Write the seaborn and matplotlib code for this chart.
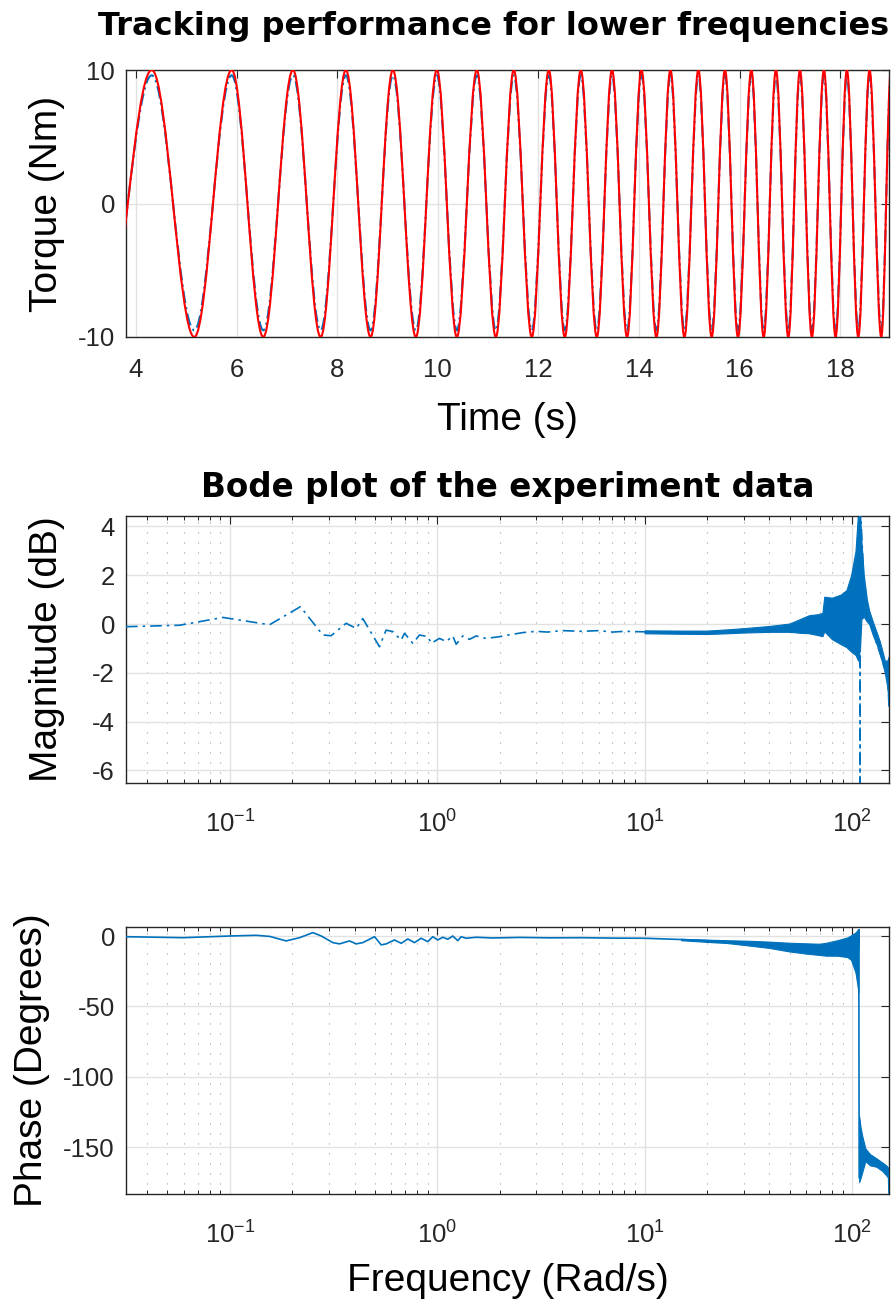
import numpy as np
import pandas as pd
import matplotlib
matplotlib.use("Agg")
import matplotlib.pyplot as plt
import seaborn as sns
from matplotlib.path import Path
from matplotlib.patches import PathPatch
from matplotlib.ticker import FixedLocator, LogLocator, NullFormatter, FuncFormatter

# ---------------- data ----------------
# Torque tracking: times of successive extrema (s) and extremum values (Nm)
extremum_time = [3.36, 4.312, 5.158, 5.901, 6.529, 7.119, 7.670, 8.172, 8.663, 9.106,
                 9.563, 9.980, 10.378, 10.775, 11.153, 11.510, 11.868, 12.206, 12.524, 12.842,
                 13.160, 13.463, 13.762, 14.048, 14.346, 14.624, 14.902, 15.180, 15.444, 15.709,
                 15.967, 16.233, 16.478, 16.722, 16.968, 17.199, 17.437, 17.676, 17.908, 18.133,
                 18.359, 18.583, 18.816, 19.01]
reference_extremum = [-10, 10, -10, 10, -10, 10, -10, 10, -10, 10,
                      -10, 10, -10, 10, -10, 10, -10, 10, -10, 10,
                      -10, 10, -10, 10, -10, 10, -10, 10, -10, 10,
                      -10, 10, -10, 10, -10, 10, -10, 10, -10, 10,
                      -10, 10, -10, 10]
measured_extremum = [-9.5, 9.6, -9.5, 9.6, -9.5, 9.6, -9.5, 9.6, -9.5, 9.6,
                     -9.5, 9.6, -9.5, 9.6, -9.5, 9.6, -9.5, 9.6, -9.5, 9.6,
                     -9.5, 9.6, -9.5, 9.6, -9.5, 9.6, -9.5, 9.6, -9.5, 9.6,
                     -9.5, 9.6, -9.5, 9.6, -9.5, 9.6, -9.5, 9.6, -9.5, 9.6,
                     -9.5, 9.6, -9.5, 9.6]
time_ticks = [4, 6, 8, 10, 12, 14, 16, 18]
torque_ticks = [-10, 0, 10]

# Bode magnitude: main trace (rad/s, dB)
mag_freq = [0.0316, 0.0573, 0.0927, 0.1555, 0.219, 0.281, 0.308, 0.364, 0.407, 0.438,
            0.527, 0.567, 0.611, 0.670, 0.696, 0.763, 0.822, 0.901, 0.936, 1.026,
            1.105, 1.189, 1.235, 1.329, 1.43, 1.54, 1.72, 1.995, 2.2, 2.6,
            3.0, 3.4, 4.0, 5.0, 6.0, 7.0, 8.0, 10.0, 15.0, 20.0,
            30.0, 40.0, 50.0, 60.0, 70.0, 80.0, 90.0, 100.0, 106.0, 108.8,
            109.2, 109.4, 109.6, 114.0, 121.0, 130.0, 140.0, 149.0, 150.8]
mag_db = [-0.11, -0.05, 0.27, -0.03, 0.71, -0.45, -0.48, 0.03, -0.18, 0.22,
          -0.93, -0.25, -0.31, -0.66, -0.38, -0.79, -0.45, -0.52, -0.79, -0.59,
          -0.72, -0.49, -0.83, -0.49, -0.63, -0.49, -0.59, -0.52, -0.45, -0.35,
          -0.30, -0.33, -0.27, -0.30, -0.27, -0.33, -0.30, -0.32, -0.34, -0.35,
          -0.27, -0.20, -0.15, 0.0, 0.0, 0.3, 0.3, 0.6, 1.5, 3.0,
          6.0, -7.0, 5.0, 1.7, 0.3, -0.66, -1.48, -2.3, -3.4]
# Bode magnitude: envelope of the noisy high-frequency band
mag_band_freq = [10, 15, 20, 25, 30, 40, 50, 56, 62, 68,
                 72, 73.5, 80, 88, 94, 99, 104, 107, 109.3, 111,
                 114, 118, 121, 126, 131, 136, 140, 144, 148, 150.8]
mag_band_upper = [-0.26, -0.27, -0.27, -0.22, -0.17, -0.08, 0.02, 0.20, 0.36, 0.40,
                  0.45, 1.12, 1.08, 1.20, 1.39, 2.0, 3.0, 4.6, 4.6, 3.4,
                  2.0, 1.0, 0.55, 0.10, -0.30, -0.70, -1.10, -1.50, -1.50, -1.30]
mag_band_lower = [-0.38, -0.40, -0.41, -0.38, -0.35, -0.32, -0.32, -0.36, -0.38, -0.45,
                  -0.50, -0.30, -0.62, -0.82, -0.95, -1.13, -1.27, -1.50, -1.0, 0.2,
                  0.3, 0.1, 0.0, -0.45, -0.80, -1.20, -1.60, -2.00, -2.60, -3.40]
mag_ticks = [-6, -4, -2, 0, 2, 4]

# Bode phase: main trace (rad/s, degrees)
phase_freq = [0.0316, 0.0594, 0.1, 0.134, 0.156, 0.187, 0.217, 0.2515, 0.276, 0.314,
              0.338, 0.378, 0.407, 0.438, 0.499, 0.537, 0.568, 0.622, 0.671, 0.722,
              0.777, 0.837, 0.901, 0.952, 1.007, 1.064, 1.125, 1.189, 1.257, 1.305,
              1.379, 1.541, 1.853, 2.5, 3.5, 5.0, 7.0, 10.0, 15.0, 20.0,
              30.0, 50.0, 70.0, 90.0, 100.0, 104.0, 107.3, 107.8, 108.3, 112.0,
              120.0, 130.0, 140.0, 150.0, 150.8]
phase_deg = [-0.5, -1.2, 0.0, 0.5, -0.3, -3.5, -1.2, 2.4, 0.0, -4.7,
             -5.6, -3.5, -5.6, -4.7, -0.5, -6.3, -5.6, -2.8, -5.2, -2.1,
             -4.7, -1.6, -4.0, -0.5, -2.8, -0.9, -2.3, 0.0, -3.3, -0.5,
             -1.6, -0.9, -1.4, -1.0, -1.3, -1.2, -1.5, -1.6, -2.5, -3.3,
             -5.0, -8.0, -9.5, -8.0, -6.0, -5.0, -10.0, 4.5, -172.0, -152.0,
             -158.0, -160.0, -164.0, -168.0, -183.0]
# Bode phase: envelopes of the noisy band before and after the resonance
phase_band_freq = [15, 20, 25, 32, 40, 50, 60, 70, 75, 85, 95, 99, 104, 107.5]
phase_band_upper = [-2.0, -2.6, -3.0, -3.4, -4.0, -4.8, -5.2, -5.5, -4.8, -3.0, -1.0, 0.5, 2.5, 5.0]
phase_band_lower = [-3.0, -4.2, -5.0, -6.8, -8.5, -11.0, -12.5, -13.5, -14.0, -14.0, -15.0, -17.0, -26.0, -40.0]
phase_band2_freq = [108.3, 110, 112, 116, 122, 131, 140, 146, 150, 150.8]
phase_band2_upper = [-128, -136, -142, -151, -155, -158, -161, -163, -165, -166]
phase_band2_lower = [-175, -172, -168, -160, -163, -164, -167, -170, -172, -184]
phase_ticks = [-150, -100, -50, 0]
decade_ticks = [0.1, 1, 10, 100]

# ---------------- style ----------------
BLUE = "#0072BD"
RED = "#FF0000"
DARK = "#262626"
W, H = 896, 1305

sns.set_theme(style="white")
plt.rcParams["font.family"] = ["Liberation Sans", "DejaVu Sans"]
plt.rcParams["axes.unicode_minus"] = False
plt.rcParams["mathtext.fontset"] = "custom"
plt.rcParams["mathtext.rm"] = "Liberation Sans"
plt.rcParams["mathtext.it"] = "Liberation Sans"

fig = plt.figure(figsize=(W / 100, H / 100), dpi=100)
fig.patch.set_facecolor("white")


def rect(l, t, r, b):
    return [l / W, 1 - b / H, (r - l) / W, (b - t) / H]


def style_axes(ax, logx=False):
    for s in ax.spines.values():
        s.set_color(DARK)
        s.set_linewidth(1.0)
        s.set_visible(True)
    ax.tick_params(axis="both", which="major", direction="in", top=True, right=True,
                   length=5.5, width=0.8, color=DARK, labelsize=18.5, labelcolor=DARK)
    ax.tick_params(axis="x", which="major", pad=20 if logx else 15)
    ax.tick_params(axis="y", which="major", pad=8)
    ax.grid(True, which="major", color="#e2e2e2", linewidth=1.0, linestyle="-")
    if logx:
        ax.xaxis.set_minor_locator(LogLocator(base=10, subs=np.arange(2, 10), numticks=20))
        ax.xaxis.set_minor_formatter(NullFormatter())
        ax.tick_params(axis="x", which="minor", direction="in", top=True, bottom=True,
                       length=3, width=0.7, color=DARK)
        ax.grid(True, which="minor", axis="x", color="#a0a0a0", linewidth=0.8,
                linestyle=(0, (1, 8)))
    ax.set_axisbelow(True)


def extrema_path(times, values, k=0.3634):
    verts = [(times[0], values[0])]
    codes = [Path.MOVETO]
    for i in range(len(times) - 1):
        t0, t1 = times[i], times[i + 1]
        y0, y1 = values[i], values[i + 1]
        d = t1 - t0
        verts += [(t0 + k * d, y0), (t1 - k * d, y1), (t1, y1)]
        codes += [Path.CURVE4] * 3
    return Path(verts, codes)


# ---------------- plot 1: tracking ----------------
ax1 = fig.add_axes(rect(126, 70, 889, 337))
style_axes(ax1)
meas = PathPatch(extrema_path(extremum_time, measured_extremum), facecolor="none",
                 edgecolor=BLUE, linewidth=1.5, linestyle=(0, (6, 2, 1, 2)), zorder=3)
ref = PathPatch(extrema_path(extremum_time, reference_extremum), facecolor="none",
                edgecolor=RED, linewidth=1.5, zorder=4)
ax1.add_patch(meas)
ax1.add_patch(ref)
ax1.set_xlim(3.8, 18.97)
ax1.set_ylim(-10, 10)
ax1.xaxis.set_major_locator(FixedLocator(time_ticks))
ax1.yaxis.set_major_locator(FixedLocator(torque_ticks))
ax1.set_xlabel("Time (s)", fontsize=28, color="black")
ax1.set_ylabel("Torque (Nm)", fontsize=28, color="black")
ax1.xaxis.set_label_coords(0.5, (337 - 430) / 267)
ax1.xaxis.label.set_va("baseline")
ax1.yaxis.set_label_coords((47 - 126) / 763, 0.5)
ax1.yaxis.label.set_va("center")
fig.text(494 / W, 1 - 35 / H, "Tracking performance for lower frequencies",
         ha="center", va="baseline", fontsize=23, fontweight="bold",
         family="DejaVu Sans", color="black")

log_fmt = FuncFormatter(lambda v, p: r"$\mathregular{10^{%d}}$" % int(round(np.log10(v))))

# ---------------- plot 2: magnitude ----------------
ax2 = fig.add_axes(rect(126, 516, 889, 783))
ax2.set_xscale("log")
style_axes(ax2, logx=True)
ax2.fill_between(mag_band_freq, mag_band_lower, mag_band_upper, color=BLUE,
                 linewidth=0.8, edgecolor=BLUE, zorder=2)
sns.lineplot(x=mag_freq, y=mag_db, ax=ax2, color=BLUE, linewidth=1.2,
             linestyle=(0, (7, 3, 1.5, 3)), estimator=None, sort=False, zorder=3)
ax2.set_xlim(0.0316, 150.8)
ax2.set_ylim(-6.52, 4.43)
ax2.xaxis.set_major_locator(FixedLocator(decade_ticks))
ax2.xaxis.set_major_formatter(log_fmt)
ax2.yaxis.set_major_locator(FixedLocator(mag_ticks))
ax2.set_ylabel("Magnitude (dB)", fontsize=28, color="black")
ax2.yaxis.set_label_coords((47 - 126) / 763, 0.5)
ax2.yaxis.label.set_va("center")
fig.text(508 / W, 1 - 497 / H, "Bode plot of the experiment data",
         ha="center", va="baseline", fontsize=23.5, fontweight="bold",
         family="DejaVu Sans", color="black")

# ---------------- plot 3: phase ----------------
ax3 = fig.add_axes(rect(126, 927, 889, 1194))
ax3.set_xscale("log")
style_axes(ax3, logx=True)
ax3.fill_between(phase_band_freq, phase_band_lower, phase_band_upper, color=BLUE,
                 linewidth=0.8, edgecolor=BLUE, zorder=2)
ax3.fill_between(phase_band2_freq, phase_band2_lower, phase_band2_upper, color=BLUE,
                 linewidth=0.8, edgecolor=BLUE, zorder=2)
sns.lineplot(x=phase_freq, y=phase_deg, ax=ax3, color=BLUE, linewidth=1.2,
             estimator=None, sort=False, zorder=3)
ax3.set_xlim(0.0316, 150.8)
ax3.set_ylim(-183.4, 6.4)
ax3.xaxis.set_major_locator(FixedLocator(decade_ticks))
ax3.xaxis.set_major_formatter(log_fmt)
ax3.yaxis.set_major_locator(FixedLocator(phase_ticks))
ax3.set_xlabel("Frequency (Rad/s)", fontsize=28, color="black")
ax3.xaxis.set_label_coords(0.5, (1194 - 1291) / 267)
ax3.xaxis.label.set_va("baseline")
ax3.set_ylabel("Phase (Degrees)", fontsize=28, color="black")
ax3.yaxis.set_label_coords((32 - 126) / 763, 0.5)
ax3.yaxis.label.set_va("center")

fig.savefig("out.png", dpi=100, facecolor="white")
